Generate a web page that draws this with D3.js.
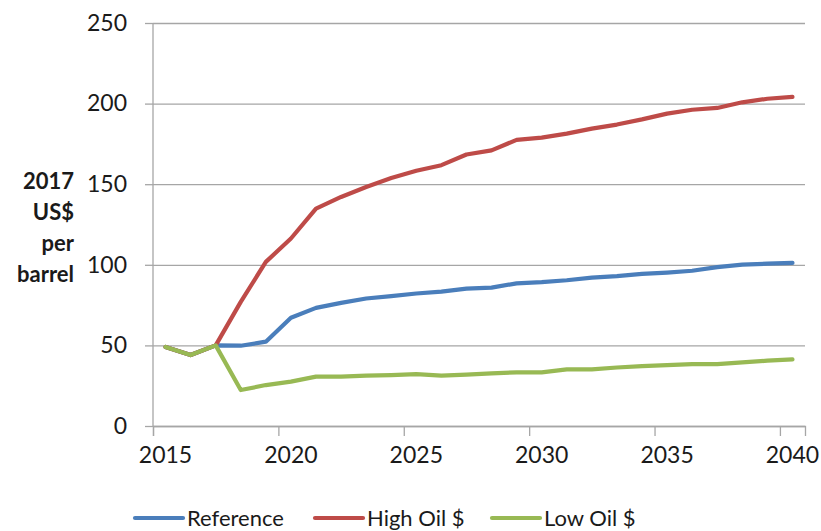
<!DOCTYPE html>
<html>
<head>
<meta charset="utf-8">
<script src="https://cdn.jsdelivr.net/npm/d3@7"></script>
<style>
  html, body { margin: 0; padding: 0; background: #fff; }
  svg { display: block; }
  text { font-family: Lato, "Open Sans", sans-serif; fill: #1a1a1a; }
</style>
</head>
<body>
<svg id="chart" width="821" height="531"></svg>
<script>
// Oil price projections, 2017 US$ per barrel
const years = d3.range(2015, 2041);
const referenceValues = [49, 44, 50, 49.8, 52.3, 67.2, 73.3, 76.4, 79.1, 80.6, 82.2, 83.4, 85.2, 85.8, 88.5,
  89.2, 90.4, 92.0, 93.0, 94.4, 95.2, 96.3, 98.6, 100.1, 100.7, 101.2];
const highOilValues = [49, 44, 50, 77, 101.8, 116.3, 134.9, 142.1, 148.3, 153.8, 158.3, 161.8, 168.4, 171.0, 177.5,
  178.9, 181.4, 184.5, 187.0, 190.2, 193.8, 196.2, 197.3, 200.8, 203.0, 204.2];
const lowOilValues = [49, 44, 50, 22.3, 25.4, 27.5, 30.6, 30.6, 31.2, 31.6, 32.2, 31.2, 31.9, 32.7, 33.3,
  33.3, 35.1, 35.1, 36.3, 37.2, 37.8, 38.4, 38.4, 39.5, 40.5, 41.3];
const yTicks = [0, 50, 100, 150, 200, 250];
const xTickLabels = [2015, 2020, 2025, 2030, 2035, 2040];
const seriesNames = ["Reference", "High Oil $", "Low Oil $"];
const seriesColors = ["#4a7ebb", "#be4b48", "#98b954"];
const axisTitle = ["2017", "US$", "per", "barrel"];

const series = [
  { name: seriesNames[0], color: seriesColors[0], values: referenceValues },
  { name: seriesNames[1], color: seriesColors[1], values: highOilValues },
  { name: seriesNames[2], color: seriesColors[2], values: lowOilValues }
];

const svg = d3.select("#chart");
const plot = { left: 153, right: 805, top: 23, bottom: 426 };
const gridColor = "#a6a6a6";

// category axis: each year occupies one slot, points sit in the slot centre
const x = d3.scaleLinear().domain([years[0] - 0.5, years[years.length - 1] + 0.5])
  .range([plot.left, plot.right]);
const y = d3.scaleLinear().domain([0, 250]).range([plot.bottom, plot.top]);

// horizontal gridlines with short outer ticks
svg.append("g")
  .attr("transform", `translate(${plot.left},0)`)
  .call(d3.axisLeft(y).tickValues(yTicks).tickSize(8).tickPadding(18).tickFormat(d3.format("d")))
  .call(g => g.select(".domain").remove())
  .call(g => g.selectAll(".tick line").attr("stroke", gridColor).attr("stroke-width", 1.3))
  .call(g => g.selectAll(".tick text").attr("font-size", 23).attr("fill", "#1a1a1a")
    .style("font-family", "Lato, 'Open Sans', sans-serif"))
  .call(g => g.selectAll(".tick").append("line")
    .attr("x1", 0).attr("x2", plot.right - plot.left)
    .attr("stroke", gridColor).attr("stroke-width", 1.3));

// vertical axis line
svg.append("line")
  .attr("x1", plot.left).attr("x2", plot.left)
  .attr("y1", plot.top).attr("y2", plot.bottom)
  .attr("stroke", gridColor).attr("stroke-width", 1.3);

// x axis: tick marks on slot boundaries every five years, labels under slot centres
const boundaries = xTickLabels.map(v => v - 0.5);
svg.append("g")
  .attr("transform", `translate(0,${plot.bottom})`)
  .call(d3.axisBottom(x).tickValues(boundaries).tickSize(10).tickFormat(""))
  .call(g => g.select(".domain").attr("stroke", gridColor).attr("stroke-width", 1.3))
  .call(g => g.selectAll(".tick line").attr("stroke", gridColor).attr("stroke-width", 1.3));

svg.append("g")
  .selectAll("text")
  .data(xTickLabels)
  .join("text")
  .attr("x", d => x(d))
  .attr("y", 463)
  .attr("text-anchor", "middle")
  .attr("font-size", 23)
  .text(d => d);

// axis title
svg.append("text")
  .attr("text-anchor", "end")
  .attr("font-size", 22)
  .attr("font-weight", "bold")
  .selectAll("tspan")
  .data(axisTitle)
  .join("tspan")
  .attr("x", 74)
  .attr("y", (d, i) => 189 + i * 31)
  .text(d => d);

// series lines
const line = d3.line()
  .x((d, i) => x(years[i]))
  .y(d => y(d));

svg.append("g")
  .selectAll("path")
  .data(series)
  .join("path")
  .attr("d", d => line(d.values))
  .attr("fill", "none")
  .attr("stroke", d => d.color)
  .attr("stroke-width", 4.2)
  .attr("stroke-linejoin", "round")
  .attr("stroke-linecap", "round");

// legend
const legendX = [135, 315, 492];
const legend = svg.append("g")
  .selectAll("g")
  .data(series)
  .join("g")
  .attr("transform", (d, i) => `translate(${legendX[i]},518)`);
legend.append("line")
  .attr("x1", 0).attr("x2", 48)
  .attr("stroke", d => d.color)
  .attr("stroke-width", 4.2)
  .attr("stroke-linecap", "round");
legend.append("text")
  .attr("x", 52)
  .attr("y", 8)
  .attr("font-size", 22)
  .text(d => d.name);
</script>
</body>
</html>
